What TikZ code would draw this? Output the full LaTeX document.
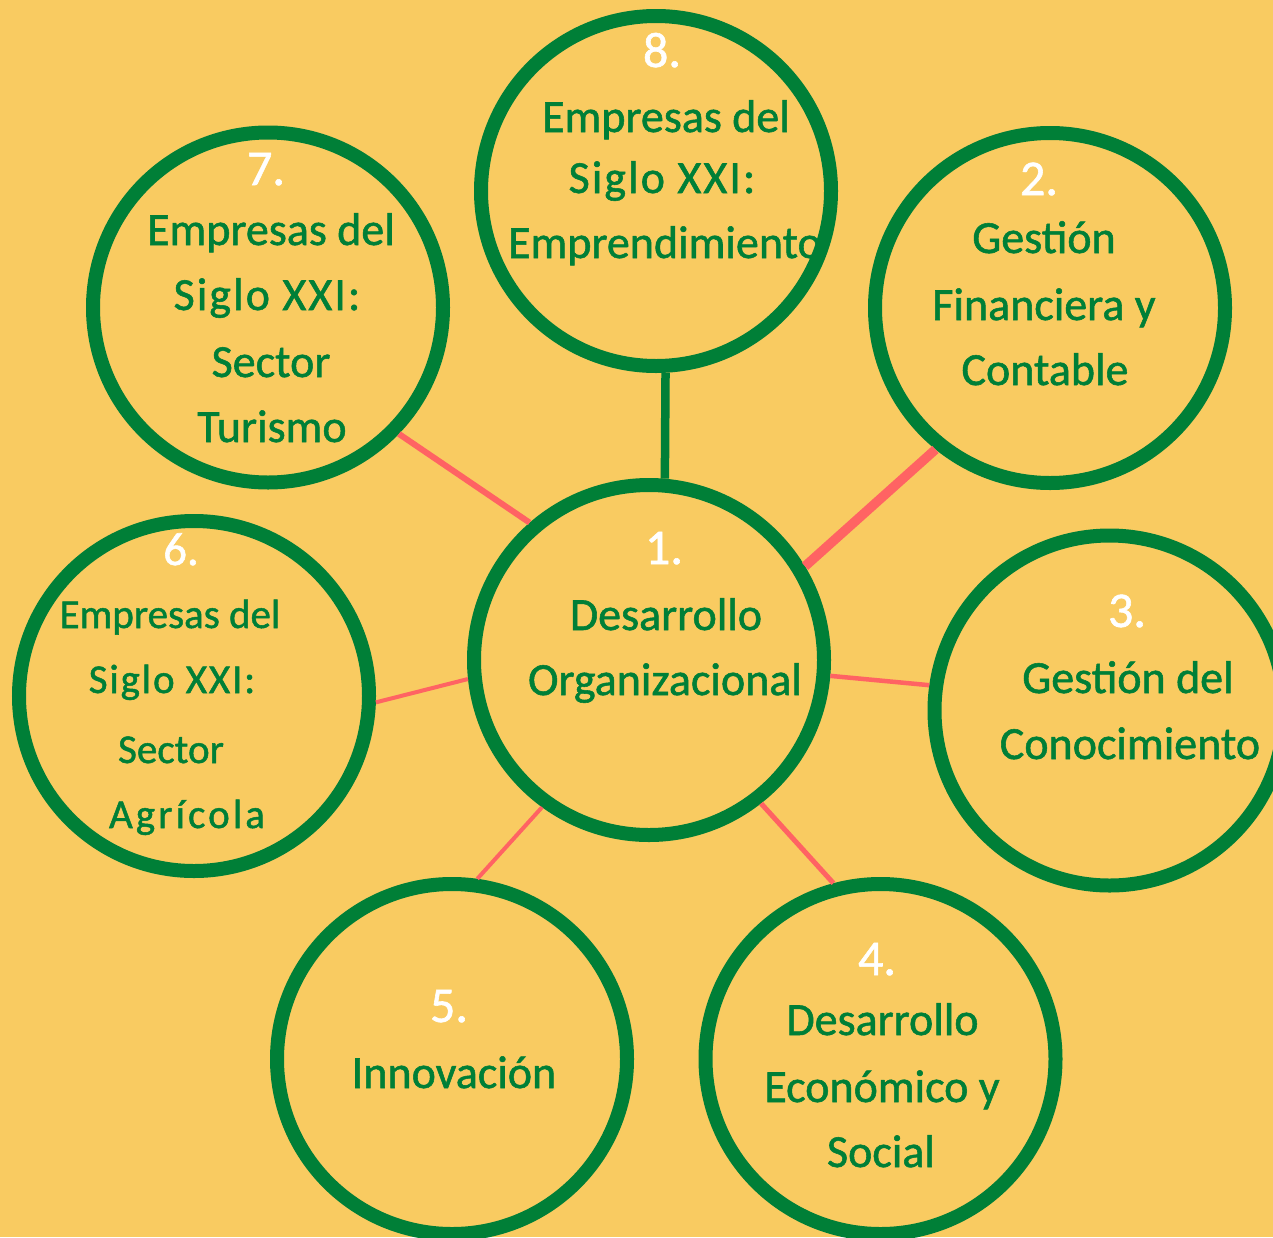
\documentclass[tikz,border=0pt]{standalone}
\usepackage{fontspec}
\setmainfont[FakeBold=1.2]{Carlito}
\newfontfamily\spacedfont[LetterSpace=4.5,FakeBold=1.2]{Carlito}
\newfontfamily\widefont[LetterSpace=7.5,FakeBold=1.2]{Carlito}
\definecolor{bgyellow}{HTML}{F9CB61}
\definecolor{ringgreen}{HTML}{007F37}
\definecolor{linkred}{HTML}{FF6363}
\begin{document}
\begin{tikzpicture}[x=1pt,y=-1pt,
  ring/.style={circle, draw=ringgreen, line width=14pt, minimum size=350pt, inner sep=0pt},
  lbl/.style={anchor=base, inner sep=0pt, text=ringgreen, font=\fontsize{46}{50}\selectfont},
  lblsmall/.style={anchor=base, inner sep=0pt, text=ringgreen, font=\fontsize{41}{45}\selectfont},
  num/.style={anchor=base, inner sep=0pt, text=white, font=\fontsize{50}{54}\selectfont},
  numsmall/.style={anchor=base, inner sep=0pt, text=white, font=\fontsize{47}{50}\selectfont},
  link/.style={draw=linkred}
]
\fill[bgyellow] (0,0) rectangle (1273,1237);
\useasboundingbox (0,0) rectangle (1273,1237);

% circles
\node[ring] (c1) at (649,660) {};
\node[ring] (c8) at (656,191) {};
\node[ring] (c7) at (268,307.5) {};
\node[ring] (c2) at (1050,308) {};
\node[ring] (c6) at (194,696) {};
\node[ring] (c3) at (1109.5,710.5) {};
\node[ring] (c5) at (452,1059) {};
\node[ring] (c4) at (880.5,1059) {};

% connectors
\draw[draw=ringgreen, line width=8.5pt] (c8.-87.5) -- (c1.85.2);
\draw[link, line width=6pt] (c7.-44.7) -- (c1.131.8);
\draw[link, line width=9.5pt] (c2.-129.1) -- (c1.31.6);
\draw[link, line width=4pt] (c6.-2.6) -- (c1.-174.5);
\draw[link, line width=4.5pt] (c1.-5.4) -- (c3.172.4);
\draw[link, line width=4pt] (c1.-126.6) -- (c5.82.1);
\draw[link, line width=5pt] (c1.-52.6) -- (c4.105.5);

% texts circle 1
\node[num] (n1) at (664,564) {1.};
\node[lbl] (t1a) at (666,630) {Desarrollo};
\node[lbl] (t1b) at (665,695) {Organizacional};

% circle 8
\node[num] (n8) at (662,67) {8.};
\node[lbl] (t8a) at (666,132) {Empresas del};
\node[lbl, font=\fontsize{46}{50}\spacedfont] (t8b) at (662,193) {Siglo XXI:};
\node[lbl] (t8c) at (665,258) {Emprendimiento};

% circle 7
\node[num] (n7) at (266,185) {7.};
\node[lbl] (t7a) at (271,245) {Empresas del};
\node[lbl, font=\fontsize{46}{50}\spacedfont] (t7b) at (267,310) {Siglo XXI:};
\node[lbl] (t7c) at (271,377) {Sector};
\node[lbl] (t7d) at (272,442) {Turismo};

% circle 2
\node[num] (n2) at (1039,195) {2.};
\node[lbl] (t2a) at (1044,253) {Gestión};
\node[lbl] (t2b) at (1044,320) {Financiera y};
\node[lbl] (t2c) at (1045,385) {Contable};

% circle 3
\node[num] (n3) at (1127,627) {3.};
\node[lbl] (t3a) at (1128,693) {Gestión del};
\node[lbl] (t3b) at (1130,759) {Conocimiento};

% circle 6
\node[numsmall] (n6) at (181,565) {6.};
\node[lblsmall] (t6a) at (170,628) {Empresas del};
\node[lblsmall, font=\fontsize{41}{45}\spacedfont] (t6b) at (172,693) {Siglo XXI:};
\node[lblsmall] (t6c) at (171,763) {Sector};
\node[lblsmall, font=\fontsize{41}{45}\widefont] (t6d) at (187,828) {Agrícola};

% circle 5
\node[num] (n5) at (449,1022) {5.};
\node[lbl] (t5a) at (454,1088) {Innovación};

% circle 4
\node[num] (n4) at (877,975) {4.};
\node[lbl] (t4a) at (882.5,1035) {Desarrollo};
\node[lbl] (t4b) at (882,1102) {Económico y};
\node[lbl] (t4c) at (881,1167) {Social};
\end{tikzpicture}
\end{document}
